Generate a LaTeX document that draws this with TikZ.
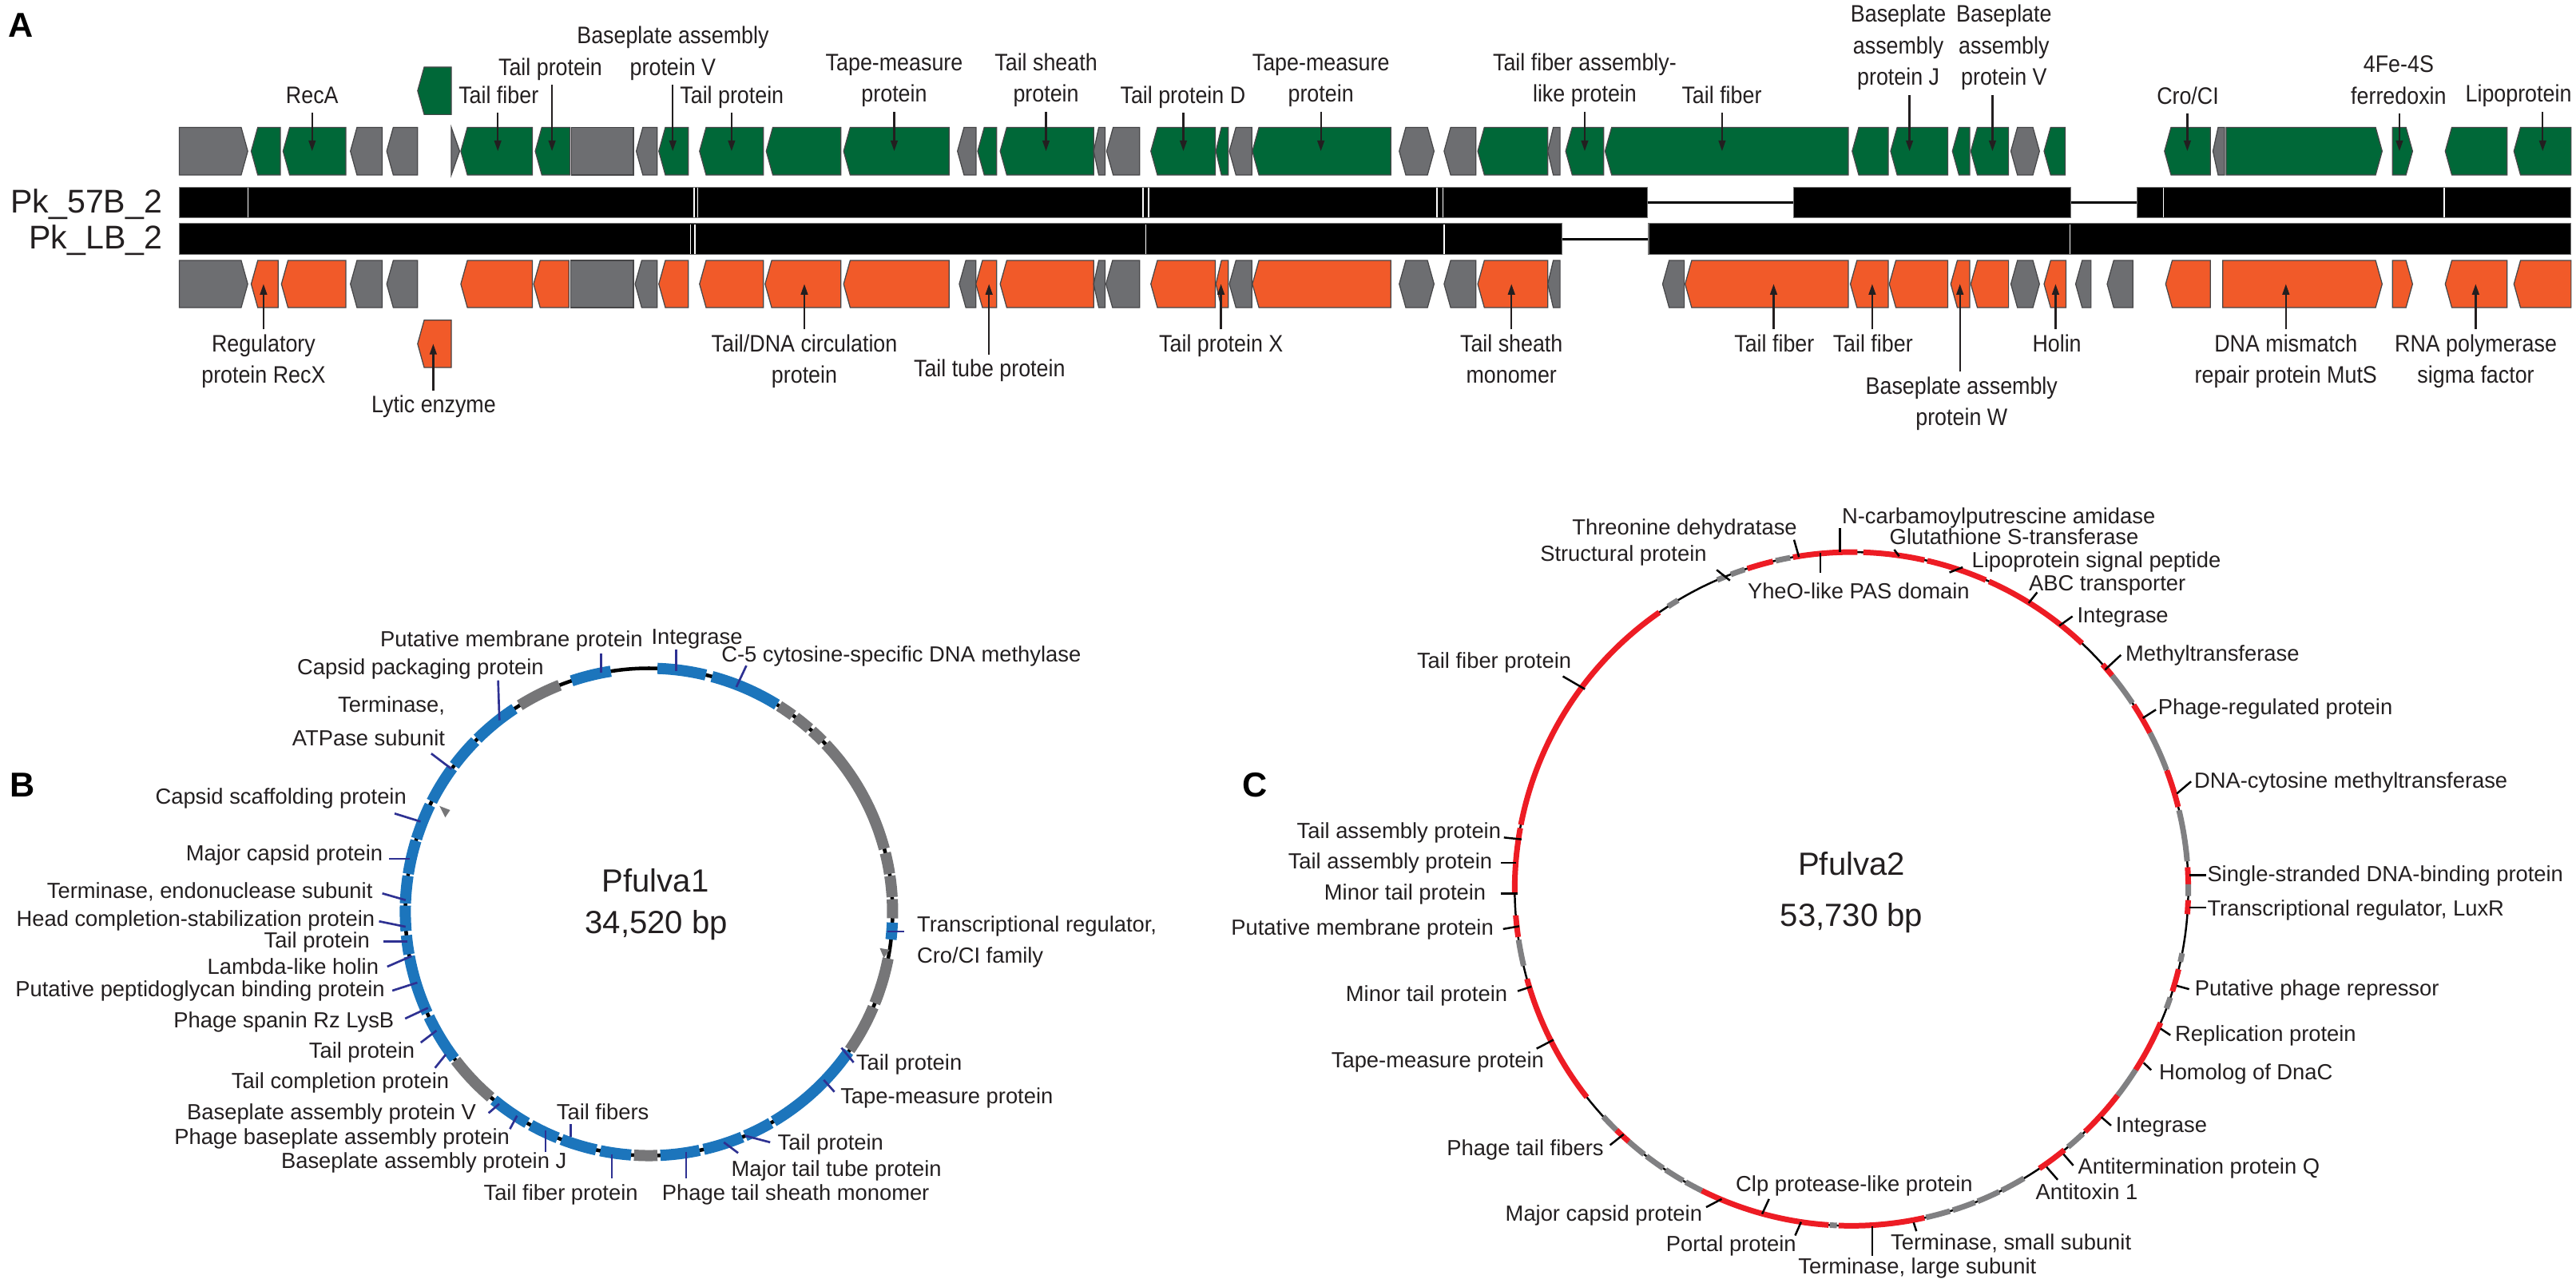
\documentclass[tikz,border=0pt]{standalone}
\usepackage{fontspec}
\setmainfont{Liberation Sans}
\newfontfamily\narrowsf[FakeStretch=0.9]{Liberation Sans}
\usetikzlibrary{arrows.meta}
\definecolor{ggreen}{RGB}{0,104,56}
\definecolor{gorange}{RGB}{241,90,41}
\definecolor{agray}{RGB}{109,110,113}
\definecolor{gedge}{RGB}{70,70,72}
\definecolor{txt}{RGB}{35,31,32}
\definecolor{bblue}{RGB}{28,117,188}
\definecolor{bgray}{RGB}{118,118,120}
\definecolor{navy}{RGB}{46,49,146}
\definecolor{cred}{RGB}{237,28,36}
\definecolor{cgray}{RGB}{128,128,130}
% gene shapes: colour, x1, x2, ytop, ybottom (display units, y downward)
\newcommand\gL[5]{\pgfmathsetmacro\gDep{min(4,(#3-#2)*0.45)}\pgfmathsetmacro\gMid{-(#4+#5)/2}%
 \filldraw[genebox,fill=#1] (#2,\gMid) -- ({#2+\gDep},-#4) -- (#3,-#4) -- (#3,-#5) -- ({#2+\gDep},-#5) -- cycle;}
\newcommand\gR[5]{\pgfmathsetmacro\gDep{min(4,(#3-#2)*0.45)}\pgfmathsetmacro\gMid{-(#4+#5)/2}%
 \filldraw[genebox,fill=#1] (#2,-#4) -- ({#3-\gDep},-#4) -- (#3,\gMid) -- ({#3-\gDep},-#5) -- (#2,-#5) -- cycle;}
\newcommand\gB[5]{\pgfmathsetmacro\gDep{min(4,(#3-#2)*0.3)}\pgfmathsetmacro\gMid{-(#4+#5)/2}%
 \filldraw[genebox,fill=#1] (#2,\gMid) -- ({#2+\gDep},-#4) -- ({#3-\gDep},-#4) -- (#3,\gMid) -- ({#3-\gDep},-#5) -- ({#2+\gDep},-#5) -- cycle;}
\newcommand\gN[5]{\filldraw[genebox,fill=#1] (#2,-#4) rectangle (#3,-#5);}
\newcommand\gT[5]{\pgfmathsetmacro\gMid{-(#4+#5)/2}\filldraw[genebox,fill=#1] (#2,-#4) -- (#3,\gMid) -- (#2,-#5) -- cycle;}
% labels of panel A
\newcommand\toplab[5]{\coordinate (t#1) at (#4,-92);
 \node[alab,anchor=south] (l#1) at (#2,{-(#3+5.76)}) {#5};
 \draw[arrw] (l#1.south -| t#1) -- (t#1);}
\newcommand\botlab[6]{\coordinate (t#1) at (#4,-#5);
 \node[alab,anchor=north] (l#1) at (#2,{-(#3-13.44)}) {#6};
 \draw[arrw] (l#1.north -| t#1) -- (t#1);}
% pointer lines of panels B and C
\newcommand\pline[4]{\coordinate (#1i) at (#3); \coordinate (#1o) at (#4); \draw[#2] (#1i) -- (#1o);}
\begin{document}
\begin{tikzpicture}[x=1pt,y=1pt,
  genebox/.style={draw=gedge,line width=0.6pt,line join=miter},
  alab/.style={font=\narrowsf\fontsize{14.5}{19.2}\selectfont,inner sep=0pt,align=center,text=txt},
  arrw/.style={-{Triangle[length=6.5pt,width=4.2pt]},line width=1.1pt,draw=txt},
  blab/.style={font=\fontsize{13.3}{16}\selectfont,inner sep=0pt,text=txt},
  bline/.style={draw=navy,line width=1.3pt},
  cline/.style={draw=black,line width=1.2pt},
  bgene/.style={line width=6.8pt,line cap=butt},
  cgene/.style={line width=3.4pt,line cap=butt},
  ctr/.style={font=\fontsize{19.5}{23}\selectfont,inner sep=0pt,text=txt,anchor=base},
  plet/.style={font=\bfseries\fontsize{21}{24}\selectfont,inner sep=0pt,text=black,anchor=base west},
  pklab/.style={font=\fontsize{20}{24}\selectfont,inner sep=0pt,text=txt,anchor=base east},
  bar/.style={fill=black,draw=black!55,line width=0.5pt},
  sep/.style={draw=white,line width=0.7pt},
  link/.style={draw=black,line width=1.5pt}]
\fill[white] (0,0) rectangle (1568,-782.8);
\useasboundingbox (0,0) rectangle (1568,-782.8);

%================ Panel A =================
\node[plet] (pA) at (5,-22.5) {A};
\node[pklab] (pk1) at (99,-129.7) {Pk\_57B\_2};
\node[pklab] (pk2) at (99,-151.5) {Pk\_LB\_2};

% alignment bars
\draw[link] (1002.9,-123.2) -- (1091.8,-123.2);
\draw[link] (1260.3,-123.2) -- (1300.7,-123.2);
\draw[link] (950.6,-145.5) -- (1003.5,-145.5);
\draw[bar] (109,-113.9) rectangle (1002.9,-132.4);
\draw[bar] (1091.8,-113.9) rectangle (1260.3,-132.4);
\draw[bar] (1300.7,-113.9) rectangle (1565,-132.4);
\draw[bar] (109,-136.1) rectangle (950.6,-154.8);
\draw[bar] (1003.5,-136.1) rectangle (1565,-154.8);
\foreach \xs in {151,422.4,424.8,695.8,699.2,874.6,878.3,1316.8,1487.7}
  {\draw[sep] (\xs,-114.3) -- (\xs,-132);}
\foreach \xs in {420.4,423,697.5,879,1260}
  {\draw[sep] (\xs,-136.5) -- (\xs,-154.4);}

% top gene row
\foreach \cc/\kk/\xa/\xb in {agray/R/109.2/150.8, ggreen/L/152.9/170.6, ggreen/L/172.3/210.5,
  agray/L/213.3/232.7, agray/L/235.4/254.2, agray/T/274.7/279.8, ggreen/L/280.5/324.1,
  ggreen/L/325.8/347, agray/N/348/385.5, agray/L/387.3/400, ggreen/L/401/419,
  ggreen/L/425.8/464.7, ggreen/L/466.4/511.8, ggreen/L/513.5/577.7, agray/L/582.8/594.1,
  ggreen/L/595.1/606.7, ggreen/L/608.8/665.7, agray/L/665.7/672.6, agray/L/673.6/693.7,
  ggreen/L/700.5/739.8, ggreen/L/740.1/747.6, agray/L/748.3/762, ggreen/L/762.3/846.6,
  agray/B/851.7/872.9, agray/L/879/898.4, ggreen/L/899.5/942.1, agray/L/942.1/949.6,
  ggreen/L/953/976.2, ggreen/L/977/1125, ggreen/L/1127.4/1149.4, ggreen/L/1150.8/1185.6,
  ggreen/L/1188.4/1198.9, ggreen/L/1199.6/1222.6, agray/B/1224/1241.4, ggreen/L/1244.2/1257.1,
  ggreen/L/1317.5/1345.4, agray/L/1347/1354, ggreen/R/1355/1450, ggreen/R/1456.3/1468.5,
  ggreen/L/1488.4/1526, ggreen/L/1530.2/1565}
  {\csname g\kk\endcsname{\cc}{\xa}{\xb}{77.5}{106.5}}
\gL{ggreen}{254.2}{274.7}{40.8}{69.7}

% bottom gene row
\foreach \cc/\kk/\xa/\xb in {agray/R/109.2/150.8, gorange/L/152.9/169.3, gorange/L/171.3/210.5,
  agray/L/213.3/232.7, agray/L/235.4/254.2, gorange/L/280.5/324.1, gorange/L/324.8/346.3,
  agray/N/347.3/385.5, agray/L/386.6/400, gorange/L/401/419, gorange/L/425.8/464.7,
  gorange/L/465.7/511.8, gorange/L/513.5/577.7, agray/L/583.9/594, gorange/L/594/606.7,
  gorange/L/608.8/665.7, agray/L/665.7/672.6, agray/L/673.2/693.7, gorange/L/700.5/739.8,
  gorange/L/740.1/747.6, agray/L/748.3/762, gorange/L/762.3/846.6, agray/B/851.7/872.9,
  agray/L/879/898.4, gorange/L/899.5/942.1, agray/L/942.1/949.6, agray/L/1012/1025.2,
  gorange/L/1025.7/1125, gorange/L/1126.3/1149.4, gorange/L/1150/1185.6, gorange/L/1187.4/1198.9,
  gorange/L/1199.6/1222.6, agray/B/1224/1241.4, gorange/L/1244.2/1257.5, agray/L/1263.4/1272.8,
  agray/L/1282.6/1298.3, gorange/L/1318.2/1345.4, gorange/R/1353/1450, gorange/R/1456.3/1468.5,
  gorange/L/1488.4/1526, gorange/L/1530.2/1565}
  {\csname g\kk\endcsname{\cc}{\xa}{\xb}{158.5}{187.2}}
\gL{gorange}{254.2}{274.7}{194.8}{223.7}

% labels above
\toplab{A1}{190}{63}{190}{RecA\strut}
\toplab{A2}{303.5}{63}{303}{Tail fiber\strut}
\toplab{A3}{335}{46}{336}{Tail protein\strut}
\toplab{A4}{409.6}{46}{409.5}{Baseplate assembly\\protein V\strut}
\toplab{A5}{445.5}{63}{445.3}{Tail protein\strut}
\toplab{A6}{544.3}{62.4}{544.3}{Tape-measure\\protein\strut}
\toplab{A7}{636.7}{62.4}{636.7}{Tail sheath\\protein\strut}
\toplab{A8}{720}{63}{720.3}{Tail protein D\strut}
\toplab{A9}{804}{62.4}{804}{Tape-measure\\protein\strut}
\toplab{A10}{964.6}{62.4}{964.6}{Tail fiber assembly-\\like protein\strut}
\toplab{A11}{1048}{63}{1048.2}{Tail fiber\strut}
\toplab{A12}{1155.5}{52}{1162.3}{Baseplate\\assembly\\protein J\strut}
\toplab{A13}{1219.8}{52}{1212.8}{Baseplate\\assembly\\protein V\strut}
\toplab{A14}{1331.7}{63.5}{1331.4}{Cro/CI\strut}
\toplab{A15}{1460}{63.5}{1460.5}{4Fe-4S\\ferredoxin\strut}
\toplab{A16}{1533}{62.4}{1547.7}{Lipoprotein\strut}
% labels below
\botlab{B1}{160.4}{213.8}{160.4}{172.8}{\strut Regulatory\\protein RecX}
\botlab{B2}{264}{251.1}{263.7}{209.2}{\strut Lytic enzyme}
\botlab{B3}{489.6}{213.8}{489.6}{172.8}{\strut Tail/DNA circulation\\protein}
\botlab{B4}{602.3}{229.2}{602}{172.8}{\strut Tail tube protein}
\botlab{B5}{743.3}{213.8}{743.2}{172.8}{\strut Tail protein X}
\botlab{B6}{920}{213.8}{920}{172.8}{\strut Tail sheath\\monomer}
\botlab{B7}{1080}{213.8}{1079.6}{172.8}{\strut Tail fiber}
\botlab{B8}{1140}{213.8}{1139.6}{172.8}{\strut Tail fiber}
\botlab{B9}{1194}{239.7}{1193}{172.8}{\strut Baseplate assembly\\protein W}
\botlab{B10}{1252}{213.8}{1251.2}{172.8}{\strut Holin}
\botlab{B11}{1391.4}{213.8}{1391.4}{172.8}{\strut DNA mismatch\\repair protein MutS}
\botlab{B12}{1507}{213.8}{1506.9}{172.8}{\strut RNA polymerase\\sigma factor}

%================ Panel B =================
\node[plet] (pB) at (6,-485) {B};
\coordinate (cB) at (395,-555);
\node[circle,draw=black,line width=2.2pt,minimum size=296.6pt,inner sep=0pt] (ringB) at (cB) {};
\foreach \xa/\xb in {-6.5/-2.5, 58.3/75, 76.5/88, 99/108.5, 123.5/134.7, 135.5/143, 143.8/153,
  154/162.5, 163/171, 171.5/178, 178.5/184.5, 185.5/190, 190.5/204.5, 205.5/217, 230.5/240,
  241/248, 249/257.5, 258.5/265.8, 272.7/282, 283/292.5, 293.3/300, 300.8/325}
  {\draw[bgene,draw=bblue] (cB) ++(\xa:148.3) arc[start angle=\xa,end angle=\xb,radius=148.3];}
\foreach \xa/\xb in {-1.5/3, 3.5/8.5, 9/14, 15/43.5, 44.5/48, 48.8/53, 53.8/57.7, 111.5/122,
  217.5/229.5, 266.5/272, 325.5/337, 338/349}
  {\draw[bgene,draw=bgray] (cB) ++(\xa:148.3) arc[start angle=\xa,end angle=\xb,radius=148.3];}
\fill[bgray] (267.5,-490.5) -- (274,-493) -- (271,-497.5) -- cycle;
\fill[bgray] (535.5,-577) -- (541.5,-578) -- (538,-583) -- cycle;
\node[ctr] (nB1) at (399,-543) {Pfulva1};
\node[ctr] (nB2) at (399.5,-568) {34,520 bp};

\node[blab,anchor=base east] (b1) at (391.4,-393.6) {Putative membrane protein};
\node[blab,anchor=base west] (b2) at (396.3,-392) {Integrase};
\node[blab,anchor=base west] (b3) at (439,-403) {C-5 cytosine-specific DNA methylase};
\node[blab,anchor=base east] (b4) at (331.2,-410.6) {Capsid packaging protein};
\node[blab,anchor=north east,align=right,font=\fontsize{13.3}{20.3}\selectfont] (b5) at (271,-419.1) {\strut Terminase,\\ATPase subunit};
\node[blab,anchor=base east] (b6) at (247.6,-489.2) {Capsid scaffolding protein};
\node[blab,anchor=base east] (b7) at (233.2,-524) {Major capsid protein};
\node[blab,anchor=base east] (b8) at (227,-546.7) {Terminase, endonuclease subunit};
\node[blab,anchor=base east] (b9) at (228.3,-563.8) {Head completion-stabilization protein};
\node[blab,anchor=base east] (b10) at (225.3,-576.7) {Tail protein};
\node[blab,anchor=base east] (b11) at (230.7,-592.9) {Lambda-like holin};
\node[blab,anchor=base east] (b12) at (234.4,-606.7) {Putative peptidoglycan binding protein};
\node[blab,anchor=base east] (b13) at (240,-625.3) {Phage spanin Rz LysB};
\node[blab,anchor=base east] (b14) at (252.6,-644) {Tail protein};
\node[blab,anchor=base east] (b15) at (273.5,-662.6) {Tail completion protein};
\node[blab,anchor=base east] (b16) at (290,-681.3) {Baseplate assembly protein V};
\node[blab,anchor=base east] (b17) at (310.4,-696.6) {Phage baseplate assembly protein};
\node[blab,anchor=base east] (b18) at (345.1,-711.2) {Baseplate assembly protein J};
\node[blab,anchor=base west] (b19) at (338.6,-681.3) {Tail fibers};
\node[blab,anchor=base east] (b20) at (388.5,-730.7) {Tail fiber protein};
\node[blab,anchor=base west] (b21) at (402.8,-730.7) {Phage tail sheath monomer};
\node[blab,anchor=base west] (b22) at (445,-716.1) {Major tail tube protein};
\node[blab,anchor=base west] (b23) at (473.2,-699.9) {Tail protein};
\node[blab,anchor=base west] (b24) at (511.4,-671.5) {Tape-measure protein};
\node[blab,anchor=base west] (b25) at (521,-651.3) {Tail protein};
\node[blab,anchor=north west,align=left,font=\fontsize{13.3}{19}\selectfont] (b26) at (558,-553.7) {\strut Transcriptional regulator,\\Cro/CI family};

\pline{p1}{bline}{366,-409.5}{366,-397.5}
\pline{p2}{bline}{411.5,-408.6}{411.5,-395.5}
\pline{p3}{bline}{448.2,-418.1}{454.3,-405.1}
\pline{p4}{bline}{304,-438.4}{303.2,-414.1}
\pline{p5}{bline}{274.9,-468}{262.5,-458.6}
\pline{p6}{bline}{256,-500}{240.2,-495.1}
\pline{p7}{bline}{249.3,-522.6}{237,-522.6}
\pline{p8}{bline}{246.9,-547.8}{232.7,-543.7}
\pline{p9}{bline}{246.9,-564}{230.7,-560.7}
\pline{p10}{bline}{248.1,-572.9}{233.2,-572.9}
\pline{p11}{bline}{250.6,-581.8}{235.7,-588.3}
\pline{p12}{bline}{254,-598}{238.8,-602.9}
\pline{p13}{bline}{260.5,-613.4}{246.6,-619.9}
\pline{p14}{bline}{265.7,-627.2}{256.1,-634.5}
\pline{p15}{bline}{271.3,-641.8}{264.8,-649.9}
\pline{p16}{bline}{303.9,-671.8}{297.4,-677.4}
\pline{p17}{bline}{314.7,-679}{310.4,-687.1}
\pline{p18}{bline}{332.1,-688}{332.1,-700.9}
\pline{p19}{bline}{347.3,-692}{347.3,-684}
\pline{p20}{bline}{372.5,-702.5}{372.5,-717.1}
\pline{p21}{bline}{417.6,-700.9}{417.6,-717.1}
\pline{p22}{bline}{440.6,-695.2}{449.3,-701.7}
\pline{p23}{bline}{453.6,-691.2}{468.8,-695.2}
\pline{p24}{bline}{501.4,-657.2}{507.9,-664.5}
\pline{p25}{bline}{512.2,-637.7}{519.6,-646.6}
\pline{p26}{bline}{540,-566.9}{550.5,-566.9}

%================ Panel C =================
\node[plet] (pC) at (756,-485) {C};
\coordinate (cC) at (1127,-541);
\node[circle,draw=black,line width=1.2pt,minimum size=410pt,inner sep=0pt] (ringC) at (cC) {};
\foreach \xa/\xb in {0.8/3.7, 14.1/20.6, 27.6/33.1, 39.3/41.8, 46.8/65.9, 66.5/77, 77.5/88,
  89/100, 103.5/108, 124.8/169, 169.6/181, 184.5/188.2, 195.5/218.2, 225.7/228.6, 243.6/266.1,
  267.8/282.5, 303.9/309.2, 313.9/322.2, 327.5/336.6, 342.3/346.2, 355.7/358.1}
  {\draw[cgene,draw=cred] (cC) ++(\xa:205) arc[start angle=\xa,end angle=\xb,radius=205];}
\foreach \xa/\xb in {-1.2/0.8, 4.7/13.5, 20.7/27.6, 33.5/39.3, 100.5/103, 108.5/111, 112/113.5,
  121/123, 188.7/193.2, 222.5/225.7, 228.6/232, 232.5/236, 236.5/240, 240.5/243.6, 266.3/267.5,
  282.8/287, 287.5/291.5, 292/296, 296.5/300.8, 310/313.4, 322.2/327.5, 339.2/341.2, 347.5/349}
  {\draw[cgene,draw=cgray] (cC) ++(\xa:205) arc[start angle=\xa,end angle=\xb,radius=205];}
\node[ctr] (nC1) at (1127,-532.4) {Pfulva2};
\node[ctr] (nC2) at (1127,-563.7) {53,730 bp};

\node[blab,anchor=base west] (c1) at (1121,-318.5) {N-carbamoylputrescine amidase};
\node[blab,anchor=base east] (c2) at (1094,-325.5) {Threonine dehydratase};
\node[blab,anchor=base west] (c3) at (1150,-331.5) {Glutathione S-transferase};
\node[blab,anchor=base east] (c4) at (1039,-341.5) {Structural protein};
\node[blab,anchor=base west] (c5) at (1200,-345.5) {Lipoprotein signal peptide};
\node[blab,anchor=base west] (c6) at (1063.6,-364.4) {YheO-like PAS domain};
\node[blab,anchor=base west] (c7) at (1234.8,-359.5) {ABC transporter};
\node[blab,anchor=base west] (c8) at (1264.2,-379) {Integrase};
\node[blab,anchor=base west] (c9) at (1293.6,-402.5) {Methyltransferase};
\node[blab,anchor=base west] (c10) at (1313.4,-435) {Phage-regulated protein};
\node[blab,anchor=base west] (c11) at (1335.4,-479.5) {DNA-cytosine methyltransferase};
\node[blab,anchor=base west] (c12) at (1343.4,-536.5) {Single-stranded DNA-binding protein};
\node[blab,anchor=base west] (c13) at (1343.4,-557.3) {Transcriptional regulator, LuxR};
\node[blab,anchor=base west] (c14) at (1335.8,-606) {Putative phage repressor};
\node[blab,anchor=base west] (c15) at (1323.8,-633.7) {Replication protein};
\node[blab,anchor=base west] (c16) at (1314,-657.2) {Homolog of DnaC};
\node[blab,anchor=base west] (c17) at (1287.7,-689.3) {Integrase};
\node[blab,anchor=base west] (c18) at (1264.7,-714.5) {Antitermination protein Q};
\node[blab,anchor=base west] (c19) at (1238.9,-730.1) {Antitoxin 1};
\node[blab,anchor=base west] (c20) at (1150.7,-760.5) {Terminase, small subunit};
\node[blab,anchor=base west] (c21) at (1094.4,-775.4) {Terminase, large subunit};
\node[blab,anchor=base east] (c22) at (1093.5,-761.4) {Portal protein};
\node[blab,anchor=base west] (c23) at (1056.4,-725.3) {Clp protease-like protein};
\node[blab,anchor=base east] (c24) at (1036.3,-743.3) {Major capsid protein};
\node[blab,anchor=base east] (c25) at (976.3,-703.1) {Phage tail fibers};
\node[blab,anchor=base east] (c26) at (940,-649.7) {Tape-measure protein};
\node[blab,anchor=base east] (c27) at (917.7,-609.4) {Minor tail protein};
\node[blab,anchor=base east] (c28) at (909.3,-569.1) {Putative membrane protein};
\node[blab,anchor=base east] (c29) at (904.6,-547.7) {Minor tail protein};
\node[blab,anchor=base east] (c30) at (908.5,-528.9) {Tail assembly protein};
\node[blab,anchor=base east] (c31) at (913.8,-510.3) {Tail assembly protein};
\node[blab,anchor=base east] (c32) at (956.6,-406.5) {Tail fiber protein};

\pline{q1}{cline}{1120,-336}{1120,-321.5}
\pline{q2}{cline}{1095,-339}{1092,-328.5}
\pline{q3}{cline}{1156,-338.5}{1153,-334.5}
\pline{q4}{cline}{1053,-353.3}{1044.9,-346.8}
\pline{q5}{cline}{1186.6,-348.4}{1194.7,-345.2}
\pline{q6}{cline}{1108,-336.5}{1108,-348.4}
\pline{q7}{cline}{1234.8,-367}{1240,-360.5}
\pline{q8}{cline}{1253.5,-380.8}{1261.5,-375.1}
\pline{q9}{cline}{1281.3,-407.6}{1291,-398.6}
\pline{q10}{cline}{1304.3,-437}{1312.3,-431.9}
\pline{q11}{cline}{1325,-483}{1333.7,-475.6}
\pline{q12}{cline}{1332.5,-532.7}{1342.8,-532.7}
\pline{q13}{cline}{1332.5,-552.2}{1342.8,-552.2}
\pline{q14}{cline}{1324.9,-599.9}{1332.5,-602}
\pline{q15}{cline}{1315.1,-626}{1321.1,-630}
\pline{q16}{cline}{1304.8,-646.8}{1309.4,-651.2}
\pline{q17}{cline}{1279,-679.8}{1285,-685}
\pline{q18}{cline}{1256,-702.4}{1262,-709.3}
\pline{q19}{cline}{1245.7,-710.2}{1252.5,-718}
\pline{q20}{cline}{1164.8,-744}{1166.5,-749.3}
\pline{q21}{cline}{1139.6,-746.2}{1139.6,-764.2}
\pline{q22}{cline}{1096.3,-743.7}{1092.7,-751.9}
\pline{q23}{cline}{1072.6,-738.8}{1076.8,-729.7}
\pline{q24}{cline}{1048,-729.7}{1038.5,-734.7}
\pline{q25}{cline}{988.3,-690.3}{980,-696.9}
\pline{q26}{cline}{945.6,-632.8}{935.3,-638.2}
\pline{q27}{cline}{932.2,-600.4}{923.8,-603.2}
\pline{q28}{cline}{924.7,-563.7}{914.9,-565.4}
\pline{q29}{cline}{923.8,-543.7}{913.5,-543.7}
\pline{q30}{cline}{922.9,-525}{913.8,-525}
\pline{q31}{cline}{926.1,-510.8}{915.4,-509.7}
\pline{q32}{cline}{964.7,-419.4}{951.3,-411.6}
\end{tikzpicture}
\end{document}
